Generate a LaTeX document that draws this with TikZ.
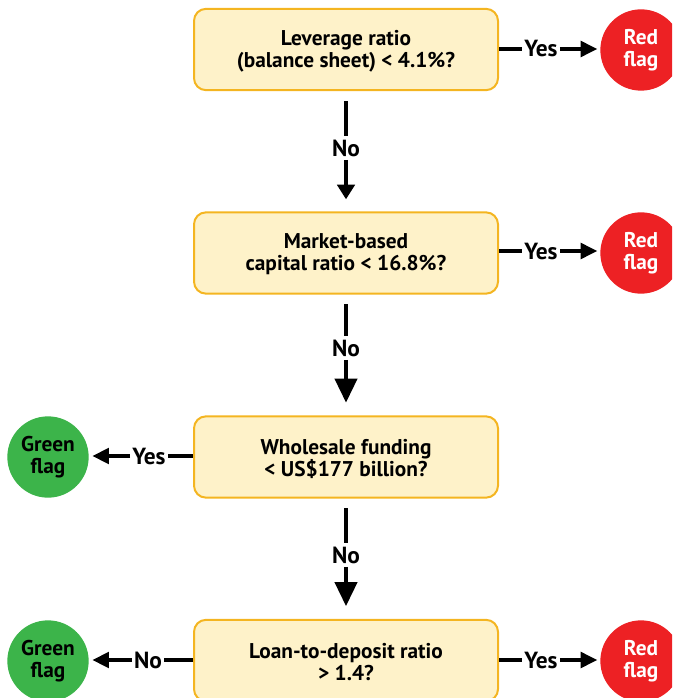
\documentclass[tikz,border=0pt]{standalone}
\usepackage{fontspec}
\setmainfont{PT Sans}
\usetikzlibrary{arrows.meta}
\definecolor{boxfill}{HTML}{FEF2C9}
\definecolor{boxline}{HTML}{F4B521}
\definecolor{redflag}{HTML}{ED2124}
\definecolor{greenflag}{HTML}{3CB44A}
\begin{document}
\begin{tikzpicture}[x=0.75pt,y=-0.75pt,
  every node/.style={font=\fontsize{16}{16.5}\selectfont\bfseries},
  qbox/.style={draw=boxline, fill=boxfill, line width=1.5pt, rounded corners=9pt,
    minimum width=228pt, minimum height=61pt, align=center, inner sep=0pt},
  qtext/.style={align=center, inner sep=0pt},
  redc/.style={circle, fill=redflag, minimum size=61pt, text=white, align=center, inner sep=0pt},
  greenc/.style={circle, fill=greenflag, minimum size=61pt, text=black, align=center, inner sep=0pt},
  lbl/.style={inner xsep=1.5pt, inner ysep=2.5pt, font=\fontsize{17.5}{18}\selectfont\bfseries},
  conn/.style={line width=3pt},
  smallhead/.style={-{Triangle[length=12.5pt,width=11.5pt]}},
  bighead/.style={-{Triangle[length=18pt,width=16.5pt]}},
  firsthead/.style={-{Triangle[length=11pt,width=13pt]}}
]
\useasboundingbox (0,0) rectangle (672,698);
\clip (0,0) rectangle (672,698);

% question boxes
\node[qbox] (q1) at (346,49.5) {};
\node[qbox] (q2) at (346,253) {};
\node[qbox] (q3) at (346,457) {};
\node[qbox] (q4) at (346,660.5) {};
\node[qtext] (t1) at (346,51) {Leverage ratio\\(balance sheet) < 4.1\%?};
\node[qtext] (t2) at (346,254.5) {Market-based\\capital ratio < 16.8\%?};
\node[qtext] (t3) at (346,458.5) {Wholesale funding\\< US\$177 billion?};
\node[qtext] (t4) at (346,662) {Loan-to-deposit ratio\\> 1.4?};

% flags
\node[redc] (r1) at (641,50) {Red\\flag};
\node[redc] (r2) at (641,253) {Red\\flag};
\node[greenc] (g3) at (48,457) {Green\\flag};
\node[redc] (r4) at (641,661) {Red\\flag};
\node[greenc] (g4) at (48,661) {Green\\flag};

% labels
\node[lbl] (y1) at (541,49) {Yes};
\node[lbl] (n1) at (346,148) {No};
\node[lbl] (y2) at (541,251) {Yes};
\node[lbl] (n2) at (346,348) {No};
\node[lbl] (y3) at (149,456) {Yes};
\node[lbl] (n3) at (346,555) {No};
\node[lbl] (n4) at (148,660) {No};
\node[lbl] (y4) at (541,660) {Yes};

% horizontal connectors
\draw[conn] (q1.east |- y1.west) -- (y1.west);
\draw[conn,smallhead,shorten >=2pt] (y1.east) -- (r1.west |- y1.east);
\draw[conn] (q2.east |- y2.west) -- (y2.west);
\draw[conn,smallhead,shorten >=2pt] (y2.east) -- (r2.west |- y2.east);
\draw[conn] (q3.west |- y3.east) -- (y3.east);
\draw[conn,smallhead,shorten >=2.5pt] (y3.west) -- (g3.east |- y3.west);
\draw[conn] (q4.west |- n4.east) -- (n4.east);
\draw[conn,smallhead,shorten >=2.5pt] (n4.west) -- (g4.east |- n4.west);
\draw[conn] (q4.east |- y4.west) -- (y4.west);
\draw[conn,smallhead,shorten >=2pt] (y4.east) -- (r4.west |- y4.east);

% vertical connectors
\draw[conn,shorten <=7.5pt] (q1.south) -- (n1.north);
\draw[conn,firsthead,shorten >=9pt] (n1.south) -- (q2.north);
\draw[conn,shorten <=7pt] (q2.south) -- (n2.north);
\draw[conn,bighead,shorten >=9.5pt] (n2.south) -- (q3.north);
\draw[conn,shorten <=7pt] (q3.south) -- (n3.north);
\draw[conn,bighead,shorten >=9.5pt] (n3.south) -- (q4.north);
\end{tikzpicture}
\end{document}
